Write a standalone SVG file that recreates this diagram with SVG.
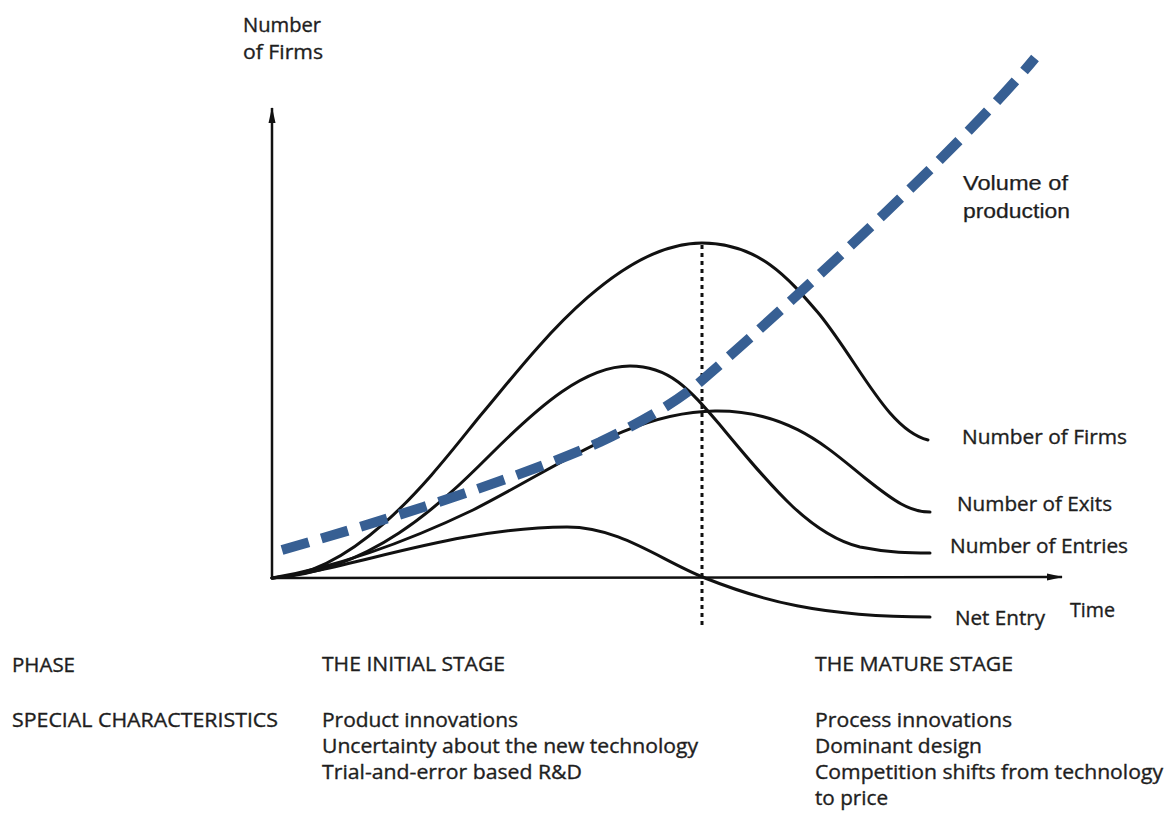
<svg xmlns="http://www.w3.org/2000/svg" width="1167" height="816" viewBox="0 0 1167 816">
<style>
.ax{stroke:#111;stroke-width:2.5;fill:none}
.cv{stroke:#111;stroke-width:3;fill:none;stroke-linecap:round}
.vol{stroke:#375f93;stroke-width:10;fill:none;stroke-dasharray:28 13}
.dot{stroke:#111;stroke-width:3;fill:none;stroke-dasharray:4 4}
.t{font-family:"Open Sans","Noto Sans",sans-serif;font-size:19.5px;fill:#1e1e1e;stroke:#1e1e1e;stroke-width:0.35}
.ta{font-family:"Liberation Sans",Arial,sans-serif;font-size:21px;fill:#1e1e1e;stroke:#1e1e1e;stroke-width:0.25}
</style>
<defs>
<marker id="arr" viewBox="0 0 16 10" refX="15" refY="5" markerWidth="16" markerHeight="10" markerUnits="userSpaceOnUse" orient="auto">
<path d="M0,1.5 L16,5 L0,8.5 Z" fill="#111"/>
</marker>
</defs>
<rect width="1167" height="816" fill="#fff"/>
<g id="axes">
<line class="ax" x1="272" y1="578" x2="272" y2="108" marker-end="url(#arr)"/>
<line class="ax" x1="272" y1="578" x2="1062" y2="577" marker-end="url(#arr)"/>
</g>
<g id="connectors">
<path id="dotline" class="dot" d="M702,245 L702,628"/>
<path id="firms" class="cv" d="M272,578 C360,575 440,465 480,416 C520,370 610,243 702,243 C760,243 790,280 820,315 C860,365 888,430 928,440"/>
<path id="exits" class="cv" d="M272,578 C330,568 400,545 473,510 C560,466 630,412 715,411 C790,410 830,450 865,478 C895,502 910,512 930,512"/>
<path id="entries" class="cv" d="M272,578 C370,572 440,505 490,455 C540,405 585,366 630,366 C670,366 690,390 720,425 C770,485 810,535 860,547 C890,553 910,553 930,553"/>
<path id="netentry" class="cv" d="M272,578 C350,570 450,528 567,527 C620,527 660,560 705,578 C760,600 820,617 930,617"/>
<path id="volume" class="vol" d="M282,550 C380,522 520,478 600,442 C650,418 680,399 700,382 C760,330 960,150 1035,58"/>
</g>
<g id="labels">
<text class="t" x="243" y="32" font-size="21" textLength="78" lengthAdjust="spacingAndGlyphs">Number</text>
<text class="t" x="243" y="59" font-size="21" textLength="80" lengthAdjust="spacingAndGlyphs">of Firms</text>
<text class="ta" x="963" y="190" textLength="105" lengthAdjust="spacingAndGlyphs">Volume  of</text>
<text class="ta" x="963" y="218" textLength="107" lengthAdjust="spacingAndGlyphs">production</text>
<text class="t" x="962" y="444" textLength="165" lengthAdjust="spacingAndGlyphs">Number of Firms</text>
<text class="t" x="957" y="511" textLength="155" lengthAdjust="spacingAndGlyphs">Number of Exits</text>
<text class="t" x="950" y="553" textLength="178" lengthAdjust="spacingAndGlyphs">Number of Entries</text>
<text class="t" x="955" y="625" textLength="90" lengthAdjust="spacingAndGlyphs">Net Entry</text>
<text class="t" x="1070" y="617" textLength="45" lengthAdjust="spacingAndGlyphs">Time</text>
</g>
<g id="table">
<text class="t" x="12" y="672" textLength="63" lengthAdjust="spacingAndGlyphs">PHASE</text>
<text class="t" x="322" y="671" textLength="183" lengthAdjust="spacingAndGlyphs">THE INITIAL STAGE</text>
<text class="t" x="815" y="671" textLength="198" lengthAdjust="spacingAndGlyphs">THE MATURE STAGE</text>
<text class="t" x="12" y="727" textLength="266" lengthAdjust="spacingAndGlyphs">SPECIAL CHARACTERISTICS</text>
<text class="t" x="322" y="727" textLength="196" lengthAdjust="spacingAndGlyphs">Product innovations</text>
<text class="t" x="322" y="753" textLength="376" lengthAdjust="spacingAndGlyphs">Uncertainty about the new technology</text>
<text class="t" x="322" y="779" textLength="260" lengthAdjust="spacingAndGlyphs">Trial-and-error based R&amp;D</text>
<text class="t" x="815" y="727" textLength="197" lengthAdjust="spacingAndGlyphs">Process innovations</text>
<text class="t" x="815" y="753" textLength="167" lengthAdjust="spacingAndGlyphs">Dominant design</text>
<text class="t" x="815" y="779" textLength="348" lengthAdjust="spacingAndGlyphs">Competition shifts from technology</text>
<text class="t" x="815" y="805" textLength="73" lengthAdjust="spacingAndGlyphs">to price</text>
</g>
</svg>
